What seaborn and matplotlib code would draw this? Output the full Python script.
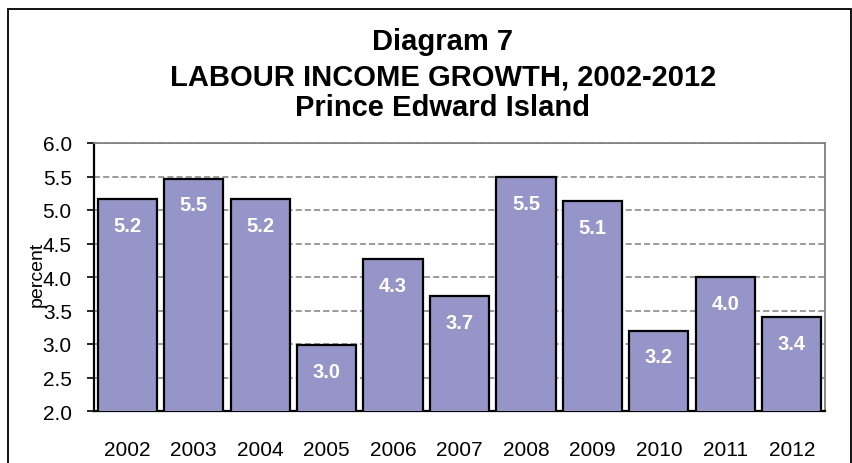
import numpy as np
import pandas as pd
import seaborn as sns
from matplotlib import pyplot as plt
from matplotlib.patches import Rectangle

# values
years = ["2002", "2003", "2004", "2005", "2006", "2007", "2008", "2009", "2010", "2011", "2012"]
growth = [5.16, 5.47, 5.16, 2.98, 4.27, 3.71, 5.49, 5.13, 3.20, 4.00, 3.40]
labels = ["5.2", "5.5", "5.2", "3.0", "4.3", "3.7", "5.5", "5.1", "3.2", "4.0", "3.4"]
title_lines = ["Diagram 7", "LABOUR INCOME GROWTH, 2002-2012", "Prince Edward Island"]

sns.set_style("white")
plt.rcParams['font.family'] = ['Liberation Sans', 'DejaVu Sans']
plt.rcParams['text.color'] = 'black'
plt.rcParams['xtick.color'] = 'black'
plt.rcParams['ytick.color'] = 'black'

df = pd.DataFrame({"year": years, "growth": growth})

W, H = 853, 464
fig = plt.figure(figsize=(W / 100, H / 100), dpi=100)
ax = fig.add_axes([94 / W, 1 - 412 / H, (825 - 94) / W, (412 - 144) / H])

sns.barplot(ax=ax, data=df, x="year", y="growth", color="#9595c9", saturation=1,
            edgecolor="black", linewidth=1.6, width=0.89, zorder=3)

ax.set_ylim(2.0, 6.0)
ax.set_xlim(-0.5, len(years) - 0.5)
ax.set_yticks(np.arange(2.0, 6.01, 0.5))
ax.set_yticklabels([f"{t:.1f}" for t in np.arange(2.0, 6.01, 0.5)])
ax.yaxis.grid(True, linestyle=(0, (4, 2)), color="#808080", linewidth=1.1, zorder=0)
ax.set_axisbelow(True)

# category boundary ticks like the spreadsheet chart
ax.set_xticks(np.arange(-0.5, len(years), 1.0), minor=True)
ax.tick_params(axis="x", which="minor", length=6, width=1.2, color="black", direction="out")
ax.tick_params(axis="x", which="major", length=0, pad=21, labelsize=15, labelcolor="black")
ax.tick_params(axis="y", length=5, width=1.2, color="black", direction="out", pad=11,
               labelsize=15, labelcolor="black", left=True)

ax.set_xlabel("")
ax.set_ylabel("")

for s in ["left", "bottom"]:
    ax.spines[s].set_color("black")
    ax.spines[s].set_linewidth(1.6)
for s in ["top", "right"]:
    ax.spines[s].set_color("#808080")
    ax.spines[s].set_linewidth(1.3)

for i, (v, lab) in enumerate(zip(growth, labels)):
    ax.annotate(lab, (i, v), xytext=(0, -19), textcoords="offset points",
                ha="center", va="center", color="white", fontsize=14.5, fontweight="bold", zorder=5)

# the axis title sits over the tick labels, as in the original
fig.text(37 / W, 1 - 274 / H, "percent", rotation=90, ha="center", va="center", fontsize=14, color="black")

for txt, base in zip(title_lines, [50, 86, 116]):
    fig.text(443 / W, 1 - base / H, txt, ha="center", va="baseline", fontsize=21, fontweight="bold", color="black")

# outer chart frame
fig.add_artist(Rectangle((8 / W, -0.1), (851.5 - 8) / W, 1.1 - 10 / H, transform=fig.transFigure,
                         fill=False, edgecolor="black", linewidth=1.3))

fig.savefig("out.png", dpi=100)
